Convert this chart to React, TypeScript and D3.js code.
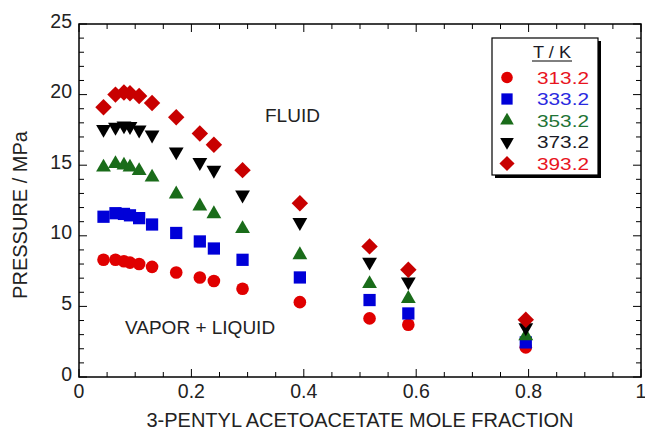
import React from "react";
import * as d3 from "d3";

const moleFraction = [0.0436, 0.0649, 0.080, 0.0907, 0.107, 0.130, 0.173, 0.215, 0.240, 0.291, 0.393, 0.517, 0.586, 0.795];
const p313 = [8.3, 8.3, 8.2, 8.1, 8.0, 7.8, 7.4, 7.05, 6.8, 6.25, 5.3, 4.15, 3.7, 2.1];
const p333 = [11.35, 11.6, 11.55, 11.45, 11.25, 10.8, 10.2, 9.6, 9.1, 8.3, 7.05, 5.45, 4.5, 2.45];
const p353 = [14.85, 15.1, 15.0, 14.85, 14.6, 14.15, 12.95, 12.1, 11.55, 10.5, 8.65, 6.6, 5.55, 2.9];
const p373 = [17.55, 17.7, 17.8, 17.75, 17.5, 17.15, 15.95, 15.2, 14.65, 12.9, 10.95, 8.15, 6.75, 3.5];
const p393 = [19.1, 20.0, 20.15, 20.1, 19.9, 19.4, 18.4, 17.25, 16.45, 14.65, 12.3, 9.25, 7.6, 4.05];
const seriesLabels = ["313.2", "333.2", "353.2", "373.2", "393.2"];
const xTickLabels = ["0", "0.2", "0.4", "0.6", "0.8", "1"];
const yTickLabels = ["0", "5", "10", "15", "20", "25"];

const seriesValues = [p313, p333, p353, p373, p393];
const markerColors = ["#e00000", "#0000d8", "#1a6c1a", "#000000", "#c80000"];
const textColors = ["#e8141e", "#2a2ae0", "#1f7436", "#1a1a26", "#e8141e"];
const shapes = ["circle", "square", "up", "down", "diamond"];

function markerPath(shape: string, k = 1): { d: string; rot: number } {
  if (shape === "circle") return { d: d3.symbol(d3.symbolCircle, 125 * k * k)()!, rot: 0 };
  if (shape === "square") return { d: d3.symbol(d3.symbolSquare, 150 * k * k)()!, rot: 0 };
  if (shape === "up") return { d: d3.symbol(d3.symbolTriangle, 95 * k * k)()!, rot: 0 };
  if (shape === "down") return { d: d3.symbol(d3.symbolTriangle, 95 * k * k)()!, rot: 180 };
  return { d: d3.symbol(d3.symbolSquare, 135 * k * k)()!, rot: 45 };
}

export default function App() {
  const W = 645, H = 430;
  const left = 79, right = 641, top = 24, bottom = 377;
  const x = d3.scaleLinear().domain([0, 1]).range([left, right]);
  const y = d3.scaleLinear().domain([0, 25]).range([bottom, top]);
  const font = "'Liberation Sans', Arial, sans-serif";

  const xMinor = d3.range(0, 1.0001, 0.05);
  const yMinor = d3.range(0, 25.0001, 1);
  const xMajor = x.ticks(5);
  const yMajor = y.ticks(5);

  const legX = 492, legY = 38, legW = 106, legH = 137;

  return (
    <svg width={W} height={H} style={{ position: "absolute", left: 0, top: 0, background: "#fff" }} fontFamily={font}>
      {xMinor.map((v, i) => (
        <g key={"xm" + i} stroke="#000" strokeWidth={1}>
          <line x1={x(v)} x2={x(v)} y1={bottom} y2={bottom - (i % 4 === 0 ? 8 : 5)} />
          <line x1={x(v)} x2={x(v)} y1={top} y2={top + (i % 4 === 0 ? 8 : 5)} />
        </g>
      ))}
      {yMinor.map((v, i) => (
        <g key={"ym" + i} stroke="#000" strokeWidth={1}>
          <line y1={y(v)} y2={y(v)} x1={left} x2={left + (i % 5 === 0 ? 8 : 5)} />
          <line y1={y(v)} y2={y(v)} x1={right} x2={right - (i % 5 === 0 ? 8 : 5)} />
        </g>
      ))}
      <rect x={left} y={top} width={right - left} height={bottom - top} fill="none" stroke="#000" strokeWidth={1.5} />
      {xMajor.map((v, i) => (
        <text key={"xl" + i} x={x(v)} y={bottom + 20.5} fontSize={19.5} textAnchor="middle" fill="#222">{xTickLabels[i]}</text>
      ))}
      {yMajor.map((v, i) => (
        <text key={"yl" + i} x={left - 7} y={y(v) + 3.5} fontSize={19.5} textAnchor="end" fill="#222">{yTickLabels[i]}</text>
      ))}
      <text x={360} y={427} fontSize={20} textAnchor="middle" fill="#222">3-PENTYL ACETOACETATE MOLE FRACTION</text>
      <text transform="translate(27,215) rotate(-90)" fontSize={20} textAnchor="middle" fill="#222">PRESSURE / MPa</text>
      <text x={265} y={122} fontSize={19} fill="#222">FLUID</text>
      <text x={125} y={334} fontSize={19} fill="#222">VAPOR + LIQUID</text>

      {seriesValues.map((vals, si) => {
        const m = markerPath(shapes[si]);
        return (
          <g key={"s" + si} fill={markerColors[si]}>
            {vals.map((v, i) => (
              <path key={i} d={m.d} transform={`translate(${x(moleFraction[i])},${y(v)}) rotate(${m.rot})`} />
            ))}
          </g>
        );
      })}

      <rect x={legX + 3} y={legY + 3} width={legW} height={legH} fill="#000" />
      <rect x={legX} y={legY} width={legW} height={legH} fill="#fff" stroke="#000" strokeWidth={1.2} />
      <text x={552} y={58} fontSize={17} textAnchor="middle" fill="#1a1a26" textLength={38} lengthAdjust="spacingAndGlyphs">T / K</text>
      <line x1={532} x2={572} y1={61} y2={61} stroke="#000" strokeWidth={1} />
      {seriesLabels.map((lab, si) => {
        const m = markerPath(shapes[si], 0.92);
        const cy = 77.5 + si * 21.5;
        return (
          <g key={"l" + si}>
            <path d={m.d} fill={markerColors[si]} transform={`translate(507,${cy}) rotate(${m.rot})`} />
            <text x={537} y={cy + 6} fontSize={16.5} fill={textColors[si]} textLength={52} lengthAdjust="spacingAndGlyphs">{lab}</text>
          </g>
        );
      })}
    </svg>
  );
}
